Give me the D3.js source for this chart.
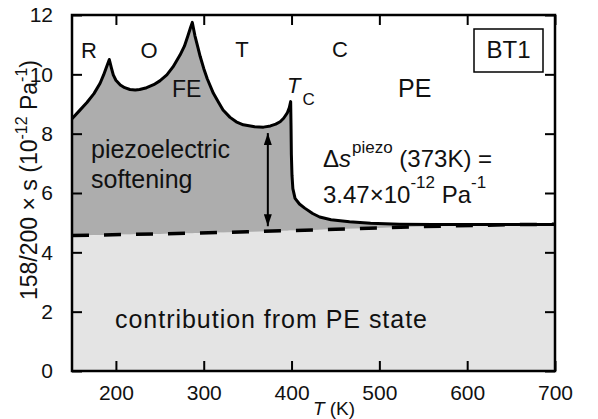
<!DOCTYPE html>
<html>
<head>
<meta charset="utf-8">
<script src="https://cdn.jsdelivr.net/npm/d3@7"></script>
<style>
  body { margin: 0; background: #fff; }
  svg { font-family: 'Liberation Sans', Arial, sans-serif; }
</style>
</head>
<body>
<svg id="svg" width="598" height="419"></svg>
<script>
// solid curve: temperature (K) and 158/200 x s (1e-12 Pa^-1)
const curveT = [150, 158, 167, 175, 182, 186, 189, 192.5, 195, 197, 200, 205, 210, 216, 222, 227, 235, 243, 250, 258, 265, 273, 278, 282, 285, 287,
  290, 293, 296, 300, 304, 311, 317, 322, 330, 337, 345, 358, 368, 376, 382, 387, 391, 395, 397.5, 399,
  399.4, 399.8, 400.5, 401.5, 404, 409, 415, 424, 432, 445, 466, 490, 523, 560, 600, 650, 700];
const curveS = [8.50, 8.76, 9.05, 9.35, 9.70, 9.98, 10.22, 10.50, 10.20, 9.98, 9.80, 9.64, 9.55, 9.49, 9.47, 9.49, 9.55, 9.65, 9.78, 9.98, 10.25, 10.65, 10.95, 11.30, 11.58, 11.75,
  11.30, 10.95, 10.60, 10.20, 9.85, 9.36, 9.05, 8.80, 8.55, 8.40, 8.30, 8.23, 8.22, 8.26, 8.32, 8.40, 8.52, 8.69, 8.88, 9.08,
  8.30, 7.30, 6.60, 6.15, 5.82, 5.63, 5.49, 5.31, 5.19, 5.10, 5.03, 4.98, 4.95, 4.94, 4.94, 4.94, 4.94];

// dashed line: contribution from PE state
const peT = [150, 250, 350, 450, 550, 650, 700];
const peS = [4.57, 4.62, 4.69, 4.78, 4.87, 4.93, 4.95];

const xTicks = [200, 300, 400, 500, 600, 700];
const yTicks = [0, 2, 4, 6, 8, 10, 12];

// double arrow at 373 K
const arrowT = 373;
const arrowRange = [8.02, 4.88];

const svg = d3.select('#svg');
const plotL = 72, plotR = 555, plotT = 15, plotB = 371;

const x = d3.scaleLinear().domain([150, 700]).range([plotL, plotR]);
const y = d3.scaleLinear().domain([0, 12]).range([plotB, plotT]);
const peAt = d3.scaleLinear().domain(peT).range(peS);

const curve = curveT.map((t, i) => ({ t: t, s: curveS[i] }));
const pe = peT.map((t, i) => ({ t: t, s: peS[i] }));

// light fill below PE line
svg.append('path')
  .datum(pe)
  .attr('fill', '#e4e4e4')
  .attr('d', d3.area().x(d => x(d.t)).y0(y(0)).y1(d => y(d.s)));

// dark fill: piezoelectric softening
svg.append('path')
  .datum(curve)
  .attr('fill', '#adadad')
  .attr('d', d3.area().x(d => x(d.t)).y0(d => y(peAt(d.t))).y1(d => y(d.s)));

// dashed PE line
svg.append('path')
  .datum(pe)
  .attr('fill', 'none')
  .attr('stroke', '#000')
  .attr('stroke-width', 3.5)
  .attr('stroke-dasharray', '17,15')
  .attr('d', d3.line().x(d => x(d.t)).y(d => y(d.s)));

// solid curve
svg.append('path')
  .datum(curve)
  .attr('fill', 'none')
  .attr('stroke', '#000')
  .attr('stroke-width', 3)
  .attr('stroke-linejoin', 'round')
  .attr('d', d3.line().x(d => x(d.t)).y(d => y(d.s)));

// arrow
const defs = svg.append('defs');
['start', 'end'].forEach(k => {
  defs.append('marker')
    .attr('id', 'arr-' + k)
    .attr('viewBox', '0 0 12 8')
    .attr('refX', 12).attr('refY', 4)
    .attr('markerWidth', 12).attr('markerHeight', 8)
    .attr('markerUnits', 'userSpaceOnUse')
    .attr('orient', 'auto-start-reverse')
    .append('path')
    .attr('d', 'M0,0 L12,4 L0,8 Z')
    .attr('fill', '#000');
});
svg.append('line')
  .attr('x1', x(arrowT)).attr('x2', x(arrowT))
  .attr('y1', y(arrowRange[0])).attr('y2', y(arrowRange[1]))
  .attr('stroke', '#000').attr('stroke-width', 2)
  .attr('marker-start', 'url(#arr-start)')
  .attr('marker-end', 'url(#arr-end)');

// axes with inward ticks
const g = svg.append('g');
g.append('g').attr('transform', `translate(0,${plotB})`)
  .call(d3.axisBottom(x).tickValues(xTicks).tickSizeInner(-10).tickSizeOuter(0).tickPadding(14));
g.append('g').attr('transform', `translate(0,${plotT})`)
  .call(d3.axisTop(x).tickValues(xTicks).tickSizeInner(-10).tickSizeOuter(0).tickFormat(''));
g.append('g').attr('transform', `translate(${plotL},0)`)
  .call(d3.axisLeft(y).tickValues(yTicks).tickSizeInner(-10).tickSizeOuter(0).tickPadding(19));
g.append('g').attr('transform', `translate(${plotR},0)`)
  .call(d3.axisRight(y).tickValues(yTicks).tickSizeInner(-10).tickSizeOuter(0).tickFormat(''));
g.selectAll('.domain').remove();
g.selectAll('.tick line').attr('stroke', '#000').attr('stroke-width', 2);
g.selectAll('.tick text')
  .attr('fill', '#111')
  .attr('font-size', 21)
  .attr('font-family', "'Liberation Sans', Arial, sans-serif");

svg.append('rect')
  .attr('x', plotL).attr('y', plotT)
  .attr('width', plotR - plotL).attr('height', plotB - plotT)
  .attr('fill', 'none').attr('stroke', '#000').attr('stroke-width', 2.5);

// labels
const txt = (px, py, s, size, extra) => {
  const t = svg.append('text').attr('x', px).attr('y', py).attr('font-size', size).attr('fill', '#111').text(s);
  if (extra) extra(t);
  return t;
};
txt(89, 58, 'R', 22, t => t.attr('text-anchor', 'middle'));
txt(149, 58, 'O', 22, t => t.attr('text-anchor', 'middle'));
txt(242, 57, 'T', 22, t => t.attr('text-anchor', 'middle'));
txt(340, 57, 'C', 22, t => t.attr('text-anchor', 'middle'));
txt(172, 97, 'FE', 23);
txt(398, 97, 'PE', 25);

const tc = svg.append('text').attr('x', 287).attr('y', 93).attr('font-size', 22).attr('fill', '#111');
tc.append('tspan').attr('font-style', 'italic').text('T');
tc.append('tspan').attr('font-size', 17).attr('dx', 2).attr('dy', 12).text('C');

svg.append('rect').attr('x', 474).attr('y', 29).attr('width', 69).attr('height', 43)
  .attr('fill', '#fff').attr('stroke', '#000').attr('stroke-width', 1.5);
txt(508.5, 58, 'BT1', 24, t => t.attr('text-anchor', 'middle'));

txt(91, 158, 'piezoelectric', 25);
txt(91, 188, 'softening', 25);
txt(115, 328, 'contribution from PE state', 25, t => t.attr('textLength', 312));

const d1 = svg.append('text').attr('x', 323).attr('y', 167).attr('font-size', 24).attr('fill', '#111');
d1.append('tspan').text('\u0394');
d1.append('tspan').attr('font-style', 'italic').text('s');
d1.append('tspan').attr('font-size', 17).attr('dy', -14).attr('dx', 1).text('piezo');
d1.append('tspan').attr('dy', 14).text(' (373K) =');

const d2 = svg.append('text').attr('x', 323).attr('y', 203).attr('font-size', 24).attr('fill', '#111');
d2.append('tspan').text('3.47\u00d710');
d2.append('tspan').attr('font-size', 17).attr('dy', -15).text('-12');
d2.append('tspan').attr('dy', 15).text(' Pa');
d2.append('tspan').attr('font-size', 17).attr('dy', -15).text('-1');

const yl = svg.append('text')
  .attr('transform', 'translate(37,180) rotate(-90)')
  .attr('text-anchor', 'middle').attr('font-size', 23).attr('fill', '#111');
yl.append('tspan').text('158/200 \u00d7 s  (10');
yl.append('tspan').attr('font-size', 16).attr('dy', -10).text('-12');
yl.append('tspan').attr('dy', 10).text(' Pa');
yl.append('tspan').attr('font-size', 16).attr('dy', -10).text('-1');
yl.append('tspan').attr('dy', 10).text(')');

const xl = svg.append('text').attr('x', 334).attr('y', 415).attr('text-anchor', 'middle')
  .attr('font-size', 19).attr('fill', '#111');
xl.append('tspan').attr('font-style', 'italic').text('T');
xl.append('tspan').text(' (K)');
</script>
</body>
</html>
